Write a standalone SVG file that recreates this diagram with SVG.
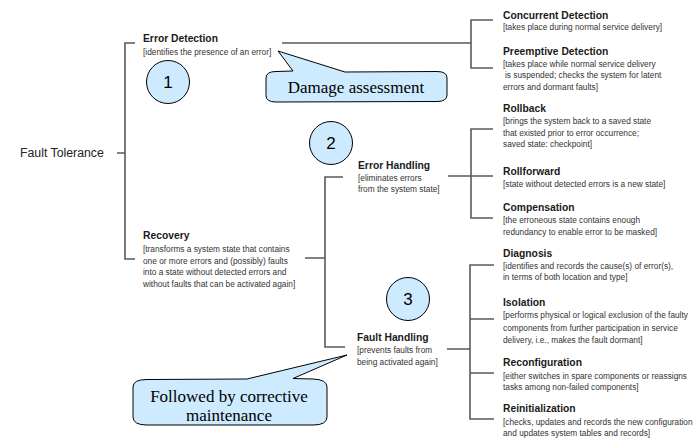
<svg xmlns="http://www.w3.org/2000/svg" width="697" height="441" viewBox="0 0 697 441">
  <style>
    .t { font-family: "Liberation Sans", Arial, sans-serif; font-weight: bold; font-size: 10.3px; fill: #1a1a1a; }
    .d { font-family: "Liberation Sans", Arial, sans-serif; font-size: 8.3px; fill: #333; }
    .root { font-family: "Liberation Sans", Arial, sans-serif; font-size: 12.3px; fill: #222; }
    .num { font-family: "Liberation Sans", Arial, sans-serif; font-size: 17px; fill: #000; text-anchor: middle; }
    .note { font-family: "Liberation Serif", "Times New Roman", serif; font-size: 17px; fill: #000; text-anchor: middle; }
    .br { fill: none; stroke: #5a5a5a; stroke-width: 1.6; }
    .badge { fill: #cdeaff; stroke: #000; stroke-width: 1; }
    .callout { fill: #cdeaff; stroke: #000; stroke-width: 1; stroke-linejoin: round; }
  </style>

  <rect width="697" height="441" fill="#fff"/>

  <!-- bracket connectors -->
  <g id="connectors" class="br">
    <!-- Fault Tolerance -->
    <path d="M117 153 H125 M135 43 H125 V259 H135"/>
    <!-- Error Detection -->
    <path d="M282 43 H471 M493 20 H471 V68 H493"/>
    <!-- Recovery -->
    <path d="M305 258 H325 M343 177 H325 V347 H345"/>
    <!-- Error Handling -->
    <path d="M448 176 H493 M493 129 H471 V218 H493"/>
    <!-- Fault Handling -->
    <path d="M447 349 H470 M494 265 H470 V419 H494 M470 319 H494 M470 373 H494"/>
  </g>

  <g id="fault-tolerance">
    <text class="root" x="20" y="157">Fault Tolerance</text>
  </g>

  <g id="error-detection">
    <text class="t" x="143" y="42">Error Detection</text>
    <text class="d" x="143" y="55">[identifies the presence of an error]</text>
  </g>

  <g id="recovery">
    <text class="t" x="143" y="239">Recovery</text>
    <text class="d" x="143" y="252">[transforms a system state that contains</text>
    <text class="d" x="143" y="263.5">one or more errors and (possibly) faults</text>
    <text class="d" x="143" y="275">into a state without detected errors and</text>
    <text class="d" x="143" y="286.5">without faults that can be activated again]</text>
  </g>

  <g id="error-handling">
    <text class="t" x="358" y="169">Error Handling</text>
    <text class="d" x="358" y="180.5">[eliminates errors</text>
    <text class="d" x="358" y="192">from the system state]</text>
  </g>

  <g id="fault-handling">
    <text class="t" x="357" y="341">Fault Handling</text>
    <text class="d" x="357" y="353">[prevents faults from</text>
    <text class="d" x="357" y="365">being activated again]</text>
  </g>

  <g id="concurrent-detection">
    <text class="t" x="503" y="19">Concurrent Detection</text>
    <text class="d" x="503" y="30">[takes place during normal service delivery]</text>
  </g>

  <g id="preemptive-detection">
    <text class="t" x="503" y="55">Preemptive Detection</text>
    <text class="d" x="503" y="66.5">[takes place while normal service delivery</text>
    <text class="d" x="505" y="78"> is suspended; checks the system for latent</text>
    <text class="d" x="503" y="89.5">errors and dormant faults]</text>
  </g>

  <g id="rollback">
    <text class="t" x="503" y="112">Rollback</text>
    <text class="d" x="503" y="124">[brings the system back to a saved state</text>
    <text class="d" x="503" y="135.5">that existed prior to error occurrence;</text>
    <text class="d" x="503" y="147">saved state: checkpoint]</text>
  </g>

  <g id="rollforward">
    <text class="t" x="503" y="174.5">Rollforward</text>
    <text class="d" x="503" y="187">[state without detected errors is a new state]</text>
  </g>

  <g id="compensation">
    <text class="t" x="503" y="211">Compensation</text>
    <text class="d" x="503" y="223">[the erroneous state contains enough</text>
    <text class="d" x="503" y="234.5">redundancy to enable error to be masked]</text>
  </g>

  <g id="diagnosis">
    <text class="t" x="503" y="257">Diagnosis</text>
    <text class="d" x="503" y="268.5">[identifies and records the cause(s) of error(s),</text>
    <text class="d" x="503" y="280">in terms of both location and type]</text>
  </g>

  <g id="isolation">
    <text class="t" x="503" y="305.5">Isolation</text>
    <text class="d" x="503" y="318">[performs physical or logical exclusion of the faulty</text>
    <text class="d" x="503" y="330.5">components from further participation in service</text>
    <text class="d" x="503" y="343">delivery, i.e., makes the fault dormant]</text>
  </g>

  <g id="reconfiguration">
    <text class="t" x="503" y="365.5">Reconfiguration</text>
    <text class="d" x="503" y="378.5">[either switches in spare components or reassigns</text>
    <text class="d" x="503" y="390">tasks among non-failed components]</text>
  </g>

  <g id="reinitialization">
    <text class="t" x="503" y="411.5">Reinitialization</text>
    <text class="d" x="503" y="425">[checks, updates and records the new configuration</text>
    <text class="d" x="503" y="436">and updates system tables and records]</text>
  </g>

  <!-- numbered badges -->
  <g id="badge-1">
    <circle class="badge" cx="168" cy="82" r="21.5"/>
    <text class="num" x="168" y="88">1</text>
  </g>
  <g id="badge-2">
    <circle class="badge" cx="331" cy="143" r="21.5"/>
    <text class="num" x="331" y="149">2</text>
  </g>
  <g id="badge-3">
    <circle class="badge" cx="408" cy="299" r="21.5"/>
    <text class="num" x="408" y="305">3</text>
  </g>

  <!-- speech callouts -->
  <g id="callout-damage">
    <path class="callout" d="M276 71.5 L293 71 L278 51 L345 72 L437 71.5 Q447 71.5 447 78 L447 95 Q447 101.5 437 101.5 L276 102 Q266 102 266 95.5 L266 78 Q266 71.5 276 71.5 Z"/>
    <text class="note" x="356" y="93">Damage assessment</text>
  </g>
  <g id="callout-maintenance">
    <path class="callout" d="M147 379.5 L247 379 L347 355 L293 378.5 L313 379 Q327 379.5 327 387 L327 417 Q327 425 313 425 L147 425 Q133 425 133 417 L133 387 Q133 379.5 147 379.5 Z"/>
    <text class="note" x="229" y="402">Followed by corrective</text>
    <text class="note" x="229" y="421">maintenance</text>
  </g>
</svg>
